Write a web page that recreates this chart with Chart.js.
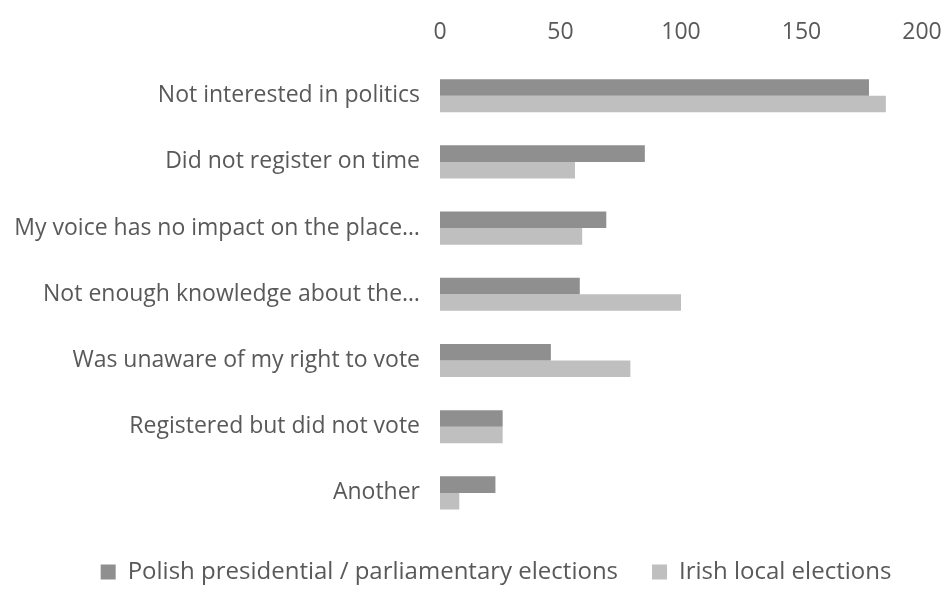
<!DOCTYPE html>
<html>
<head>
<meta charset="utf-8">
<script src="https://cdn.jsdelivr.net/npm/chart.js@4/dist/chart.umd.min.js"></script>
<style>
  html, body { margin: 0; padding: 0; background: #fff; }
  #wrap { width: 948px; height: 597px; }
</style>
</head>
<body>
<div id="wrap"><canvas id="chart"></canvas></div>
<script>
// reasons for not voting
var categories = [
  'Not interested in politics',
  'Did not register on time',
  'My voice has no impact on the place\u2026',
  'Not enough knowledge about the\u2026',
  'Was unaware of my right to vote',
  'Registered but did not vote',
  'Another'
];
var polishValues = [178, 85, 69, 58, 46, 26, 23];
var irishValues = [185, 56, 59, 100, 79, 26, 8];
var xTicks = [0, 50, 100, 150, 200];

var textColor = '#595959';
var fontFamily = "'Open Sans', sans-serif";

// the original legend sits a little right of centre
var legendShift = {
  id: 'legendShift',
  afterLayout: function (chart) {
    if (chart.legend) {
      chart.legend.left += 22;
      chart.legend.right += 22;
    }
  }
};

var ctx = document.getElementById('chart');
var myChart = new Chart(ctx, {
  type: 'bar',
  data: {
    labels: categories,
    datasets: [{
      label: 'Polish presidential / parliamentary elections',
      data: polishValues,
      backgroundColor: '#8f8f8f'
    }, {
      label: 'Irish local elections',
      data: irishValues,
      backgroundColor: '#bfbfbf'
    }]
  },
  plugins: [legendShift],
  options: {
    indexAxis: 'y',
    responsive: true,
    maintainAspectRatio: false,
    animation: false,
    datasets: {
      bar: { barPercentage: 1, categoryPercentage: 0.5 }
    },
    layout: { padding: { top: 3, right: 0, bottom: 3, left: 0 } },
    scales: {
      x: {
        position: 'top',
        min: 0,
        max: 200,
        afterBuildTicks: function (axis) {
          axis.ticks = xTicks.map(function (v) { return { value: v }; });
        },
        afterFit: function (axis) {
          axis.paddingRight = 26;
          axis.paddingLeft = 0;
        },
        grid: { display: false, drawTicks: false },
        border: { display: false },
        ticks: {
          color: textColor,
          font: { family: fontFamily, size: 23 },
          padding: 16
        }
      },
      y: {
        grid: { display: false, drawTicks: false },
        border: { display: false },
        afterFit: function (axis) { axis.width = 440; },
        ticks: {
          color: textColor,
          font: { family: fontFamily, size: 23 },
          padding: 20
        }
      }
    },
    plugins: {
      legend: {
        position: 'bottom',
        labels: {
          color: textColor,
          font: { family: fontFamily, size: 24 },
          boxWidth: 15,
          boxHeight: 15,
          padding: 34
        }
      },
      tooltip: { enabled: false }
    }
  }
});
</script>
</body>
</html>
